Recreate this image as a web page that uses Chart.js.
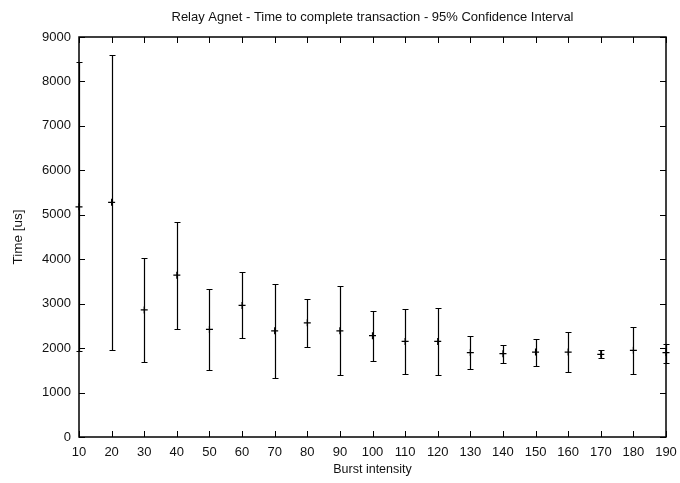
<!DOCTYPE html>
<html>
<head>
<meta charset="utf-8">
<script src="https://cdn.jsdelivr.net/npm/chart.js@4/dist/chart.umd.min.js"></script>
<style>
  html, body { margin: 0; padding: 0; background: #fff; }
  #wrap { width: 680px; height: 483px; }
</style>
</head>
<body>
<div id="wrap"><canvas id="c"></canvas></div>
<script>
// burst intensity vs. mean time with 95% confidence bounds
var bursts = [10, 20, 30, 40, 50, 60, 70, 80, 90, 100, 110, 120, 130, 140, 150, 160, 170, 180, 190];
var meanTime = [5180, 5280, 2860, 3640, 2420, 2960, 2390, 2570, 2390, 2280, 2150, 2150, 1900, 1875, 1910, 1910, 1860, 1950, 1900];
var lowTime  = [1930, 1965, 1680, 2430, 1515, 2220, 1330, 2025, 1395, 1720, 1420, 1390, 1520, 1672, 1605, 1462, 1778, 1420, 1672];
var highTime = [8440, 8600, 4030, 4845, 3330, 3713, 3450, 3112, 3390, 2835, 2870, 2900, 2272, 2062, 2212, 2354, 1950, 2466, 2092];
var yTicks = [0, 1000, 2000, 3000, 4000, 5000, 6000, 7000, 8000, 9000];

var points = bursts.map(function (b, i) { return { x: b, y: meanTime[i] }; });

// gnuplot-like frame with inward ticks on all sides, then the error bars
var errorBars = {
    id: 'errorBars',
    afterDraw: function (chart) {
        var ctx = chart.ctx, xs = chart.scales.x, ys = chart.scales.y, a = chart.chartArea;
        ctx.save();
        ctx.strokeStyle = '#000';
        ctx.lineWidth = 1.5;
        ctx.strokeRect(a.left, a.top, a.right - a.left, a.bottom - a.top);

        ctx.lineWidth = 1;
        ctx.beginPath();
        bursts.forEach(function (b) {
            var px = Math.round(xs.getPixelForValue(b)) + 0.5;
            ctx.moveTo(px, a.bottom); ctx.lineTo(px, a.bottom - 6);
            ctx.moveTo(px, a.top); ctx.lineTo(px, a.top + 6);
        });
        yTicks.forEach(function (v) {
            var py = Math.round(ys.getPixelForValue(v)) + 0.5;
            ctx.moveTo(a.left, py); ctx.lineTo(a.left + 6, py);
            ctx.moveTo(a.right, py); ctx.lineTo(a.right - 6, py);
        });
        ctx.stroke();

        ctx.lineWidth = 1.2;
        ctx.beginPath();
        bursts.forEach(function (b, i) {
            var px = Math.round(xs.getPixelForValue(b)) + 0.5;
            var lo = Math.round(ys.getPixelForValue(lowTime[i])) + 0.5;
            var hi = Math.round(ys.getPixelForValue(highTime[i])) + 0.5;
            ctx.moveTo(px, lo); ctx.lineTo(px, hi);
            ctx.moveTo(px - 3, lo); ctx.lineTo(px + 3, lo);
            ctx.moveTo(px - 3, hi); ctx.lineTo(px + 3, hi);
        });
        ctx.stroke();
        ctx.restore();
    }
};

Chart.defaults.font.family = '"Liberation Sans", Arial, sans-serif';
Chart.defaults.font.size = 13;
Chart.defaults.color = '#111';

new Chart(document.getElementById('c'), {
    type: 'scatter',
    data: {
        datasets: [{
            data: points,
            pointStyle: 'cross',
            radius: 3.5,
            hoverRadius: 3.5,
            borderColor: '#000',
            backgroundColor: '#000',
            borderWidth: 1.2,
            clip: false
        }]
    },
    options: {
        responsive: true,
        maintainAspectRatio: false,
        animation: false,
        layout: { autoPadding: false, padding: 0 },
        plugins: {
            legend: { display: false },
            tooltip: { enabled: false }
        },
        scales: {
            x: {
                type: 'linear',
                min: 10,
                max: 190,
                grid: { display: false },
                border: { display: false },
                ticks: { stepSize: 10, autoSkip: false, maxRotation: 0, padding: 0 },
                title: { display: true, text: 'Burst intensity', font: { size: 12.5 }, padding: { top: 0, bottom: 6 } },
                afterFit: function (s) { s.height = 46; s.paddingRight = 0; }
            },
            // top axis only carries the chart title, centred over the plot like gnuplot
            x2: {
                type: 'linear',
                position: 'top',
                min: 10,
                max: 190,
                grid: { display: false },
                border: { display: false },
                ticks: { display: false },
                title: {
                    display: true,
                    text: 'Relay Agnet - Time to complete transaction - 95% Confidence Interval',
                    font: { size: 13 },
                    padding: { top: 10, bottom: 0 }
                },
                afterFit: function (s) { s.height = 37; s.paddingRight = 0; s.paddingLeft = 0; }
            },
            y: {
                min: 0,
                max: 9000,
                grid: { display: false },
                border: { display: false },
                ticks: { stepSize: 1000, padding: 0, callback: function (v) { return String(v); } },
                title: { display: true, text: 'Time [us]', font: { size: 13.5 }, padding: { top: 10, bottom: 0 } },
                afterFit: function (s) { s.width = 79; }
            },
            y2: {
                position: 'right',
                min: 0,
                max: 9000,
                grid: { display: false },
                border: { display: false },
                ticks: { display: false },
                afterFit: function (s) { s.width = 14; }
            }
        }
    },
    plugins: [errorBars]
});
</script>
</body>
</html>
